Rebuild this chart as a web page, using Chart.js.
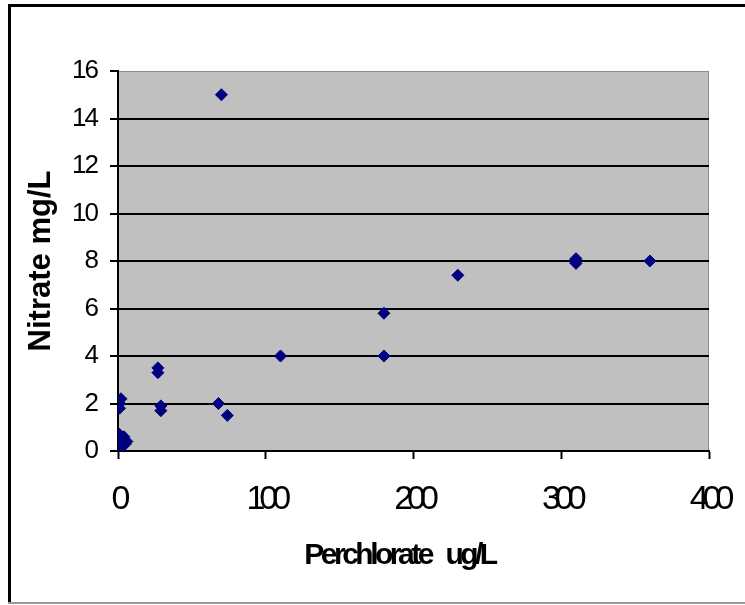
<!DOCTYPE html>
<html>
<head>
<meta charset="utf-8">
<script src="https://cdn.jsdelivr.net/npm/chart.js@4.4.1/dist/chart.umd.min.js"></script>
<style>
  html, body { margin: 0; padding: 0; background: #ffffff; }
  #wrap { position: relative; width: 745px; height: 605px; }
</style>
</head>
<body>
<div id="wrap"><canvas id="c" width="745" height="605"></canvas></div>
<script>
// ---- data ----
const perchlorate = [0, 1, 2, 3, 4, 5, 6, 1, 1, 1, 2, 27, 27, 29, 29, 68, 74, 70, 110, 180, 180, 230, 309, 310, 310, 360];
const nitrate     = [0.3, 0.1, 0.5, 0.2, 0.6, 0.3, 0.4, 0.7, 1.8, 2.0, 2.2, 3.3, 3.5, 1.7, 1.9, 2.0, 1.5, 15, 4, 5.8, 4, 7.4, 8.0, 7.9, 8.1, 8];
const xTicks = [0, 100, 200, 300, 400];
const yTicks = [0, 2, 4, 6, 8, 10, 12, 14, 16];
const xTitle = 'Perchlorate   ug/L';
const yTitle = 'Nitrate mg/L';

const fam = "'Liberation Sans', Arial, sans-serif";

const points = perchlorate.map((x, i) => ({ x: x, y: nitrate[i] }));

// tighten letter spacing of a scale's labels / title (text stays real text)
function tighten(labelSp, titleSp, titleShift) {
  return s => {
    if (s._tight) return;
    s._tight = true;
    const dl = s.drawLabels.bind(s);
    const dt = s.drawTitle.bind(s);
    s.drawLabels = function (a) {
      const c = this.ctx, p = c.letterSpacing;
      c.letterSpacing = labelSp; dl(a); c.letterSpacing = p || '0px';
    };
    s.drawTitle = function (a) {
      const c = this.ctx, p = c.letterSpacing;
      c.save();
      c.translate(titleShift || 0, 0);
      c.letterSpacing = titleSp; dt(a); c.letterSpacing = p || '0px';
      c.restore();
    };
  };
}

const framePlugin = {
  id: 'frame',
  beforeDraw(chart) {
    const ctx = chart.ctx;
    const a = chart.chartArea;
    ctx.save();
    ctx.fillStyle = '#ffffff';
    ctx.fillRect(0, 0, chart.width, chart.height);
    // outer border
    ctx.fillStyle = '#000000';
    ctx.fillRect(8, 4, 3, 600);
    ctx.fillRect(8, 4, 737, 3);
    ctx.fillStyle = '#9a9a9a';
    ctx.fillRect(8, 602, 737, 2);
    // plot background
    ctx.fillStyle = '#c0c0c0';
    ctx.fillRect(a.left, a.top, a.right - a.left, a.bottom - a.top);
    ctx.strokeStyle = '#8c8c8c';
    ctx.lineWidth = 1;
    ctx.strokeRect(a.left + 0.5, a.top + 0.5, a.right - a.left - 1, a.bottom - a.top - 1);
    ctx.restore();
  }
};

new Chart(document.getElementById('c'), {
  type: 'scatter',
  data: {
    datasets: [{
      data: points,
      pointStyle: 'rectRot',
      pointRadius: 6,
      pointHoverRadius: 6,
      backgroundColor: '#000080',
      borderColor: '#000080',
      borderWidth: 1
    }]
  },
  options: {
    responsive: false,
    animation: false,
    devicePixelRatio: 1,
    events: [],
    layout: { padding: { left: 0, top: 71, right: 36, bottom: 0 } },
    plugins: { legend: { display: false }, tooltip: { enabled: false } },
    scales: {
      x: {
        type: 'linear',
        min: xTicks[0],
        max: xTicks[xTicks.length - 1],
        afterBuildTicks: s => { s.ticks = xTicks.map(v => ({ value: v })); },
        afterFit: s => { s.height = 154; s.paddingLeft = 0; s.paddingRight = 0; },
        afterUpdate: tighten('-6px', '-3.5px', -14),
        ticks: { color: '#000', font: { family: fam, size: 34 }, padding: 20, maxRotation: 0 },
        grid: { drawOnChartArea: false, drawTicks: true, tickLength: 8, tickColor: '#000', tickWidth: 2 },
        border: { color: '#000', width: 2 },
        title: { display: true, text: xTitle, color: '#000', font: { family: fam, size: 30, weight: 'bold' }, padding: { top: 0, bottom: 31 } }
      },
      y: {
        type: 'linear',
        min: yTicks[0],
        max: yTicks[yTicks.length - 1],
        afterBuildTicks: s => { s.ticks = yTicks.map(v => ({ value: v })); },
        afterFit: s => { s.width = 118; s.paddingTop = 0; s.paddingBottom = 0; },
        afterUpdate: tighten('-2px', '0px', 0),
        ticks: { color: '#000', font: { family: fam, size: 26 }, padding: 13 },
        grid: {
          color: c => (c.tick && c.tick.value === 16) ? 'rgba(0,0,0,0)' : '#000',
          lineWidth: 2,
          drawTicks: true, tickLength: 8, tickColor: '#000', tickWidth: 2
        },
        border: { color: '#000', width: 2 },
        title: { display: true, text: yTitle, color: '#000', font: { family: fam, size: 31, weight: 'bold' }, padding: { top: 23, bottom: 0 } }
      }
    }
  },
  plugins: [framePlugin]
});
</script>
</body>
</html>
